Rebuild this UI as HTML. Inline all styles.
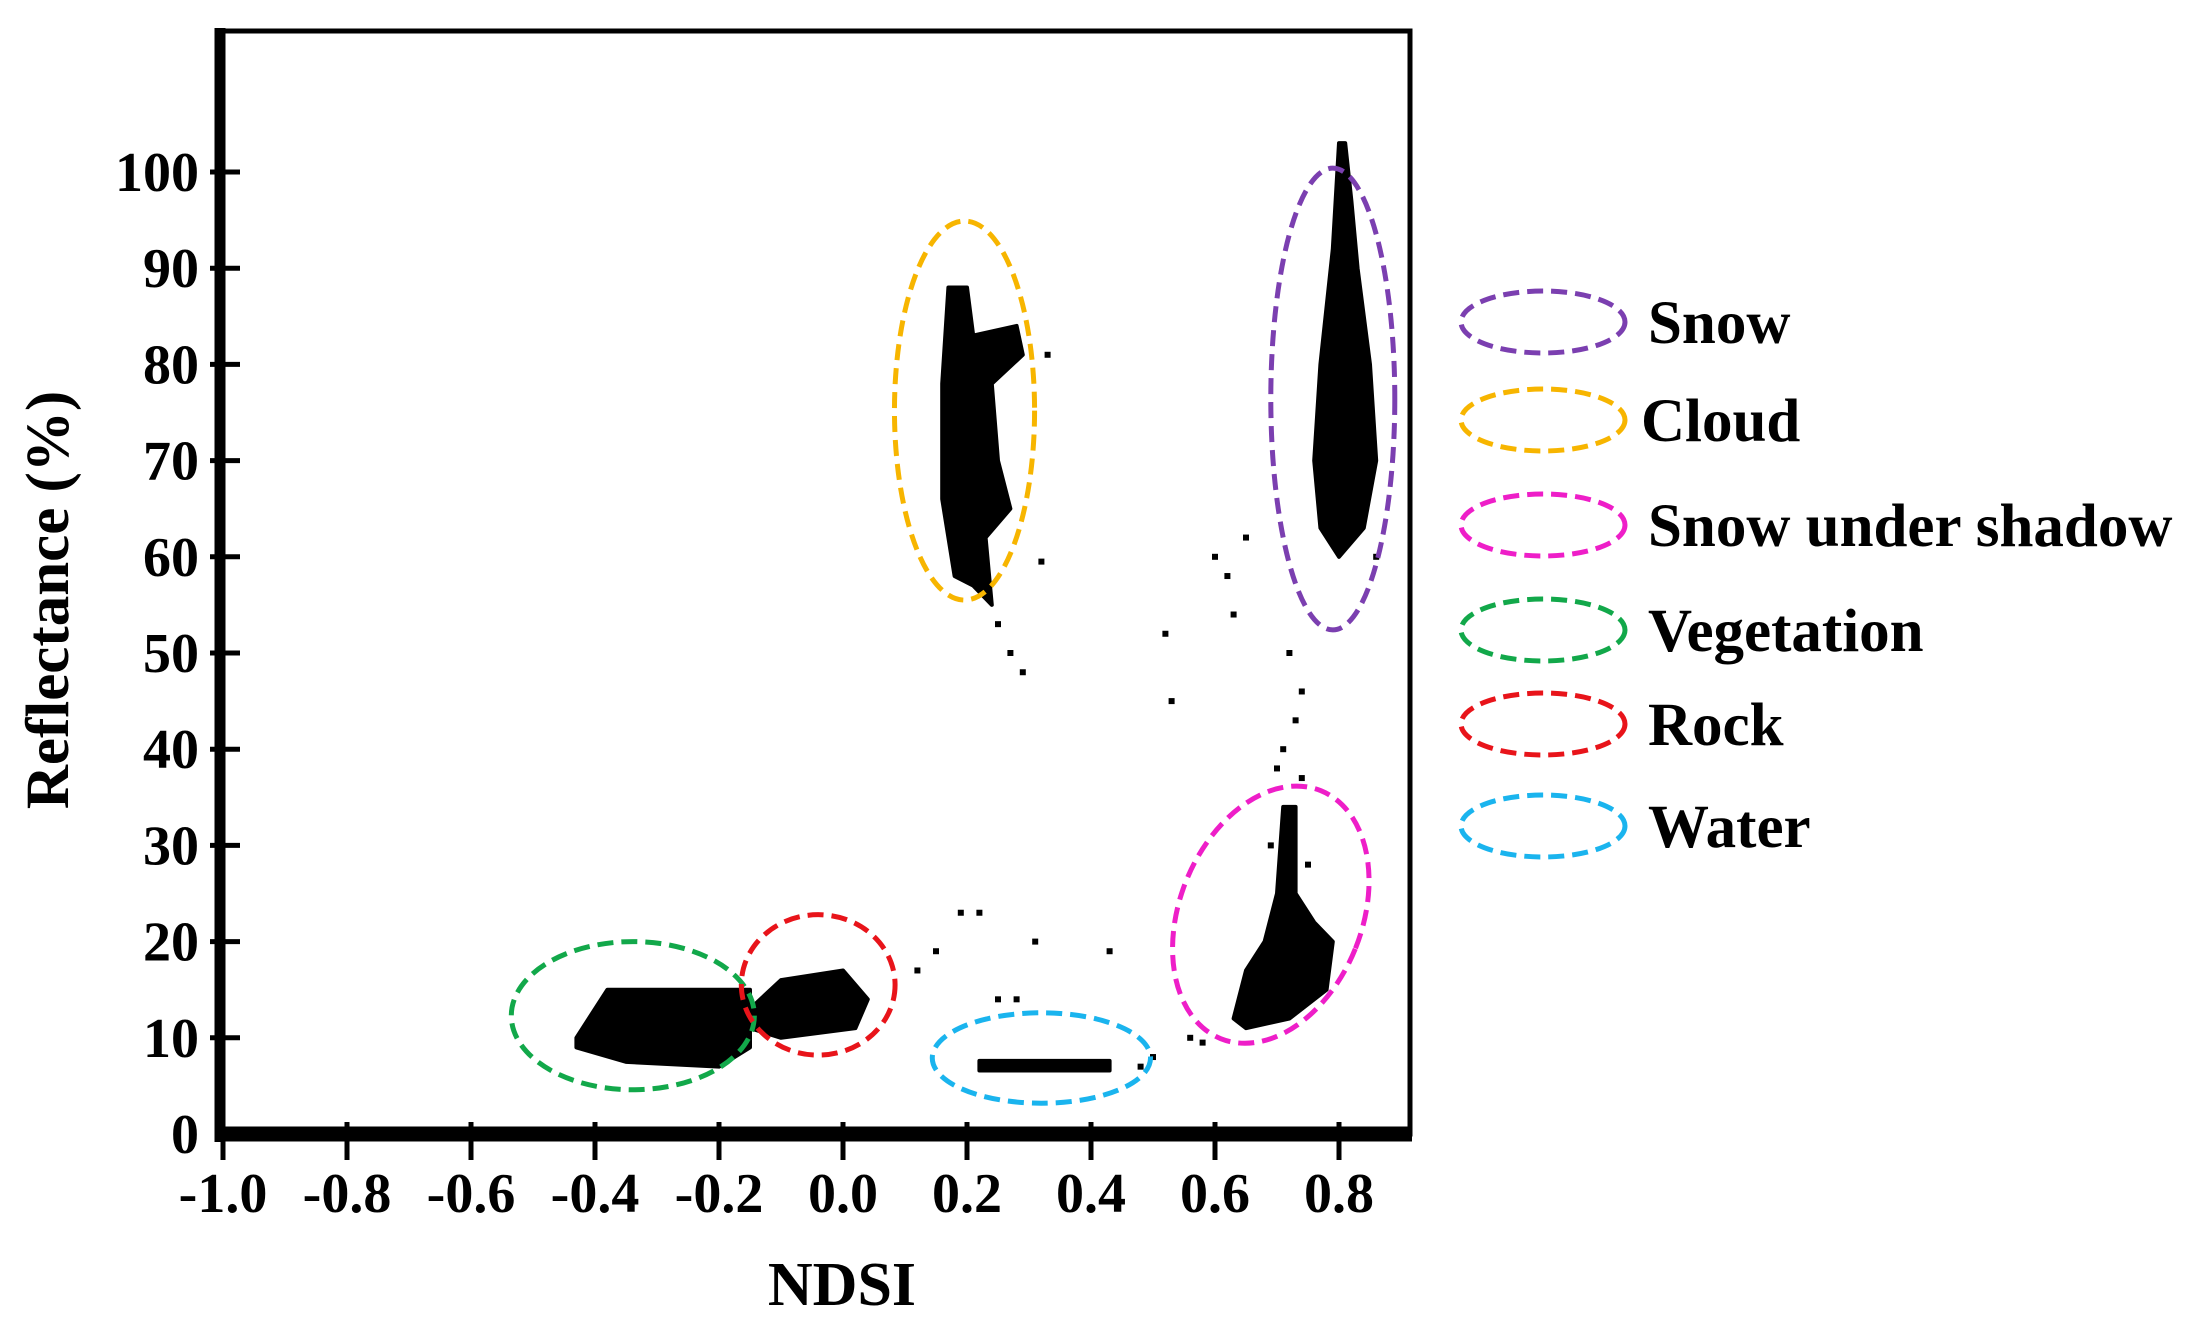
<!DOCTYPE html>
<html><head><meta charset="utf-8"><style>
html,body{margin:0;padding:0;background:#fff;}
svg{display:block;font-family:"Liberation Serif",serif;font-weight:bold;}
</style></head><body>
<svg id="chart" width="2195" height="1326" viewBox="0 0 2195 1326" xmlns="http://www.w3.org/2000/svg">
<g id="plot"></g>
</svg>
<script>
const xTicks=[-1.0,-0.8,-0.6,-0.4,-0.2,0.0,0.2,0.4,0.6,0.8];
const xTickLabels=["-1.0","-0.8","-0.6","-0.4","-0.2","0.0","0.2","0.4","0.6","0.8"];
const yTicks=[0,10,20,30,40,50,60,70,80,90,100];
const yTickLabels=["0","10","20","30","40","50","60","70","80","90","100"];
const classNames=["Snow","Cloud","Snow under shadow","Vegetation","Rock","Water"];
const classColors=["#7b3fb0","#f7b500","#ee1ec8","#12a84a","#e8141a","#1ab4ee"];
const ellCx=[0.79,0.196,0.69,-0.339,-0.04,0.32];
const ellCy=[76.4,75.2,22.8,12.3,15.5,7.9];
const ellRx=[0.10,0.113,0.147,0.196,0.124,0.176];
const ellRy=[24,19.7,13.9,7.7,7.3,4.7];
const ellRot=[0,0,22,0,0,0];
const clusterCloudX=[0.17,0.20,0.21,0.28,0.29,0.24,0.25,0.27,0.23,0.24,0.21,0.18,0.16,0.16];
const clusterCloudY=[88,88,83,84,81,78,70,65,62,55,57,58,66,78];
const clusterSnowX=[0.80,0.81,0.82,0.83,0.85,0.86,0.84,0.80,0.77,0.76,0.77,0.79];
const clusterSnowY=[103,103,97,90,80,70,63,60,63,70,80,92];
const clusterShadowX=[0.71,0.73,0.73,0.76,0.79,0.78,0.72,0.65,0.63,0.65,0.68,0.70];
const clusterShadowY=[34,34,25,22,20,15,12,11,12,17,20,25];
const clusterVegX=[-0.43,-0.38,-0.15,-0.15,-0.2,-0.35,-0.43];
const clusterVegY=[10,15,15,9,7,7.5,9];
const clusterRockX=[-0.15,-0.10,0.0,0.04,0.02,-0.10,-0.15];
const clusterRockY=[13,16,17,14,11,10,11];
const clusterWaterX=[0.22,0.43,0.43,0.22];
const clusterWaterY=[7.6,7.6,6.6,6.6];
const pointX=[0.27,0.29,0.25,0.60,0.62,0.63,0.52,0.53,0.72,0.74,0.73,0.71,0.70,0.74,0.19,0.22,0.31,0.43,0.25,0.28,0.15,0.12,0.56,0.58,0.50,0.48,0.32,0.33,0.65,0.75,0.86,0.69];
const pointY=[50,48,53,60,58,54,52,45,50,46,43,40,38,37,23,23,20,19,14,14,19,17,10,9.5,8,7,59.5,81,62,28,60,30];

const X0=223,XS=124/0.2,Y0=1134,YS=96.2/10;
const xs=v=>X0+(v+1)*XS, ys=v=>Y0-v*YS;
const NS="http://www.w3.org/2000/svg";
const svg=document.getElementById('chart');
function mk(t,a,p){const e=document.createElementNS(NS,t);for(const k in a)e.setAttribute(k,a[k]);(p||svg).appendChild(e);return e;}

let f=mk('rect',{x:220,y:31,width:1190,height:1103,fill:'none',stroke:'#000','stroke-width':5});


let ya=mk('line',{x1:220,y1:28,x2:220,y2:1142,stroke:'#000','stroke-width':11});


let xa=mk('line',{x1:215,y1:1134,x2:1412,y2:1134,stroke:'#000','stroke-width':15});



xTicks.forEach((v,i)=>{
  let t=mk('line',{x1:xs(v),y1:1122,x2:xs(v),y2:1160,stroke:'#000','stroke-width':5});
  
  
  let l=mk('text',{x:xs(v),y:1212,'font-size':56,'text-anchor':'middle'});
  l.textContent=xTickLabels[i];
  
  
});
yTicks.forEach((v,i)=>{
  if(v>0){let t=mk('line',{x1:210,y1:ys(v),x2:240,y2:ys(v),stroke:'#000','stroke-width':5});
  
  }
  let l=mk('text',{x:199,y:ys(v)+19,'font-size':56,'text-anchor':'end'});
  l.textContent=yTickLabels[i];
  
  
});
let xt=mk('text',{x:842,y:1305,'font-size':62,'text-anchor':'middle'});
xt.textContent='NDSI';


let yt=mk('text',{x:0,y:0,'font-size':61,'text-anchor':'middle',transform:'translate(68,600) rotate(-90)'});
yt.textContent='Reflectance (%)';



[[clusterCloudX,clusterCloudY,'cloud'],[clusterSnowX,clusterSnowY,'snow'],[clusterShadowX,clusterShadowY,'shadow'],[clusterVegX,clusterVegY,'vegetation'],[clusterRockX,clusterRockY,'rock'],[clusterWaterX,clusterWaterY,'water']].forEach(c=>{
  const pts=c[0].map((x,i)=>xs(x)+','+ys(c[1][i])).join(' ');
  let p=mk('polygon',{points:pts,fill:'#000',stroke:'#000','stroke-width':4,'stroke-linejoin':'round'});
  
  
});
pointX.forEach((x,i)=>{
  let r=mk('rect',{x:xs(x)-3,y:ys(pointY[i])-3,width:6,height:6,fill:'#000'});
  
  
});

classNames.forEach((n,i)=>{
  const cx=xs(ellCx[i]),cy=ys(ellCy[i]);
  let e=mk('ellipse',{cx:cx,cy:cy,rx:ellRx[i]*XS,ry:ellRy[i]*YS,fill:'none',stroke:classColors[i],'stroke-width':5,'stroke-dasharray':'16 8',transform:'rotate('+ellRot[i]+' '+cx+' '+cy+')'});
  
  
});

const legY=[322,420,525,630,724,826];
classNames.forEach((n,i)=>{
  let e=mk('ellipse',{cx:1543,cy:legY[i],rx:82,ry:31,fill:'none',stroke:classColors[i],'stroke-width':5,'stroke-dasharray':'16 8'});
  
  
  let t=mk('text',{x:i==1?1641:1648,y:legY[i]+21,'font-size':61});
  t.textContent=n;
  
  
});
</script>
</body></html>
